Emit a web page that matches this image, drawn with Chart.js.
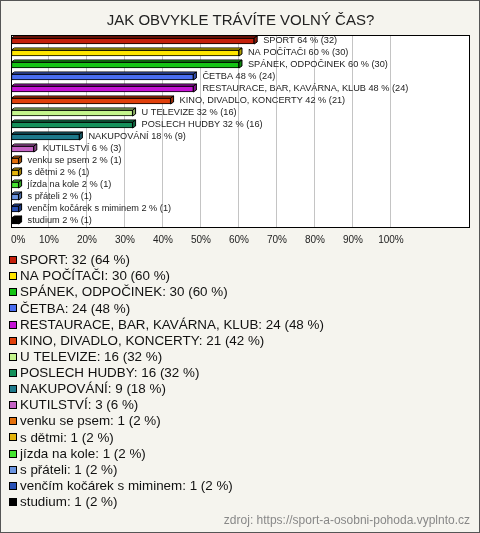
<!DOCTYPE html>
<html><head><meta charset="utf-8">
<script src="https://cdn.jsdelivr.net/npm/chart.js@4.4.0/dist/chart.umd.min.js"></script>
<style>
html,body{margin:0;padding:0;background:#f5f4ee;}
#wrap{position:relative;width:478px;height:531px;border:1px solid #555;background:#f5f4ee;}
canvas{display:block;}
</style></head>
<body><div id="wrap"><canvas id="c" width="478" height="531"></canvas></div>
<script>
const categories = ["SPORT","NA POČÍTAČI","SPÁNEK, ODPOČINEK","ČETBA","RESTAURACE, BAR, KAVÁRNA, KLUB","KINO, DIVADLO, KONCERTY","U TELEVIZE","POSLECH HUDBY","NAKUPOVÁNÍ","KUTILSTVÍ","venku se psem","s dětmi","jízda na kole","s přáteli","venčím kočárek s miminem","studium"];
const counts = [32,30,30,24,24,21,16,16,9,3,1,1,1,1,1,1];
const percents = [64,60,60,48,48,42,32,32,18,6,2,2,2,2,2,2];
const colors = ["#c4200c","#ffe500","#14c414","#4a6ef0","#c414d4","#e0400c","#c4f48c","#14905a","#1e7a8c","#c462c4","#e4700c","#e4b40c","#44e430","#6a94e0","#2850b4","#000000"];
const tickValues = [0,10,20,30,40,50,60,70,80,90,100];
const titleText = "JAK OBVYKLE TRÁVÍTE VOLNÝ ČAS?";
const sourceText = "zdroj: https://sport-a-osobni-pohoda.vyplnto.cz";

function shade(hex, f){
  const n=parseInt(hex.slice(1),16);
  let r=(n>>16)&255,g=(n>>8)&255,b=n&255;
  if(f<1){r*=f;g*=f;b*=f;}else{r=r+(255-r)*(f-1);g=g+(255-g)*(f-1);b=b+(255-b)*(f-1);}
  return `rgb(${Math.round(r)},${Math.round(g)},${Math.round(b)})`;
}

const bgPlugin = {
  id:'bg',
  beforeDraw(chart){
    const {ctx, chartArea:a} = chart;
    ctx.save();
    ctx.fillStyle='#f5f4ee';
    ctx.fillRect(0,0,chart.width,chart.height);
    ctx.fillStyle='#ffffff';
    ctx.fillRect(a.left,a.top,a.right-a.left,a.bottom-a.top);
    ctx.restore();
  },
  afterDraw(chart){
    const {ctx, chartArea:a} = chart;
    ctx.save();
    ctx.strokeStyle='#000';ctx.lineWidth=1;
    ctx.strokeRect(Math.round(a.left)+0.5,Math.round(a.top)+0.5,Math.round(a.right-a.left)-1,Math.round(a.bottom-a.top));
    // legend
    ctx.font='13.4px "Liberation Sans", Arial, sans-serif';
    ctx.textBaseline='middle';
    const y0=259, step=16.13;
    categories.forEach((c,i)=>{
      const y=y0+i*step;
      ctx.fillStyle=colors[i];
      ctx.fillRect(8.5,Math.round(y)-3.5,7,7);
      ctx.strokeStyle='#000';
      ctx.strokeRect(8.5,Math.round(y)-3.5,7,7);
      ctx.fillStyle='#111';
      ctx.textAlign='left';
      ctx.fillText(`${c}: ${counts[i]} (${percents[i]} %)`,19,y+0.5);
    });
    ctx.font='12px "Liberation Sans", Arial, sans-serif';
    ctx.fillStyle='#888';
    ctx.textAlign='right';
    ctx.fillText(sourceText,469,520);
    ctx.restore();
  }
};

const bar3d = {
  id:'bar3d',
  afterDatasetsDraw(chart){
    const {ctx} = chart;
    const meta = chart.getDatasetMeta(0);
    const dx=3, dy=2;
    ctx.save();
    ctx.lineWidth=1;ctx.strokeStyle='#000';
    meta.data.forEach((el,i)=>{
      const p = el.getProps(['x','y','base','height'],true);
      const l=p.base, r=p.x, t=p.y-p.height/2, b=p.y+p.height/2;
      ctx.fillStyle=colors[i];
      ctx.beginPath();
      ctx.moveTo(l,t);ctx.lineTo(l+dx,t-dy);ctx.lineTo(r+dx,t-dy);ctx.lineTo(r,t);ctx.closePath();
      ctx.fill();ctx.stroke();
      ctx.fillStyle=shade(colors[i],0.7);
      ctx.beginPath();
      ctx.moveTo(r,t);ctx.lineTo(r+dx,t-dy);ctx.lineTo(r+dx,b-dy);ctx.lineTo(r,b);ctx.closePath();
      ctx.fill();ctx.stroke();
      ctx.fillStyle='#222';
      ctx.font='9.2px "Liberation Sans", Arial, sans-serif';
      ctx.textBaseline='middle';ctx.textAlign='left';
      ctx.fillText(`${categories[i]} ${percents[i]} % (${counts[i]})`, r+dx+6, p.y-0.5);
    });
    ctx.restore();
  }
};

new Chart(document.getElementById('c'),{
  type:'bar',
  data:{labels:categories,datasets:[{data:percents,backgroundColor:colors,borderColor:'#000',borderWidth:1,borderSkipped:false,barThickness:6}]},
  options:{
    responsive:false,animation:false,indexAxis:'y',
    layout:{padding:{left:10,right:9,top:0,bottom:279}},
    plugins:{
      legend:{display:false},tooltip:{enabled:false},
      title:{display:true,text:titleText,color:'#222',font:{family:'"Liberation Sans", Arial, sans-serif',size:15,weight:'normal'},padding:{top:11,bottom:5}}
    },
    scales:{
      y:{display:false,offset:true},
      x:{min:0,max:120.8,position:'bottom',
        afterBuildTicks(s){s.ticks=tickValues.map(v=>({value:v})).concat([{value:120.8}]);},
        ticks:{align:'inner',padding:7,color:'#222',font:{family:'"Liberation Sans", Arial, sans-serif',size:10},autoSkip:false,maxRotation:0,callback:(v)=> v<=100 ? v+'%' : ''},
        grid:{drawTicks:false,color:(c)=> (c.tick && c.tick.value>0 && c.tick.value<=100) ? '#c4c4c4' : 'rgba(0,0,0,0)'},
        border:{display:false}
      }
    }
  },
  plugins:[bgPlugin,bar3d]
});
</script></body></html>
